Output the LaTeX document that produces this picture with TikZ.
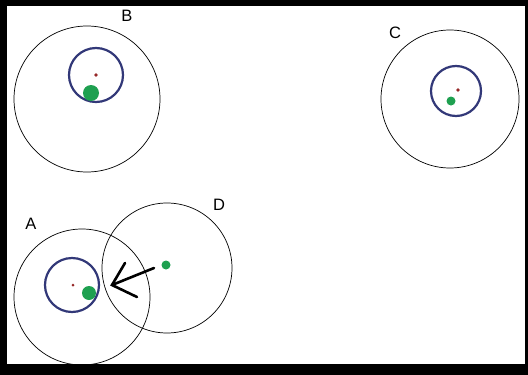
\documentclass[tikz,border=0pt]{standalone}
\usepackage{fontspec}
\setmainfont{Liberation Sans}
\begin{document}
\begin{tikzpicture}[x=1pt,y=-1pt,
  outer/.style={draw=black,line width=0.7pt},
  inner/.style={draw=ringblue,line width=2.2pt},
  reddot/.style={fill=dotred,draw=none},
  greendot/.style={fill=dotgreen,draw=none},
  lbl/.style={font=\fontsize{16.5}{16.5}\selectfont,inner sep=0pt}]
\definecolor{ringblue}{RGB}{50,56,120}
\definecolor{dotred}{RGB}{150,40,40}
\definecolor{dotgreen}{RGB}{30,160,80}
\useasboundingbox (0,0) rectangle (528,375);
\fill[black] (0,0) rectangle (528,375);
\fill[white] (7,6) rectangle (525,364);
% B
\draw[outer] (87,99) circle (73);
\draw[inner] (96,75) circle (27);
\fill[reddot] (96,75) circle (1.8);
\fill[greendot] (91,93) circle (8);
\node[lbl] (B) at (127,16) {B};
% C
\draw[outer] (450,99) circle (69);
\draw[inner] (456,91) circle (25);
\fill[reddot] (458,90) circle (1.8);
\fill[greendot] (451,101) circle (4.5);
\node[lbl] (C) at (395,33) {C};
% A
\draw[outer] (82,297) circle (68);
\draw[inner] (72,285) circle (27);
\fill[reddot] (73,285) circle (1.5);
\fill[greendot] (89,293) circle (7);
\node[lbl] (A) at (31,224) {A};
% D
\draw[outer] (167,268) circle (65);
\fill[greendot] (166,265) circle (4.5);
\node[lbl] (D) at (219,205) {D};
% arrow
\coordinate (s) at (154,268);
\coordinate (t) at (112,285);
\draw[line width=2.6pt,line cap=round] (s) -- (t);
\draw[line width=2.6pt,line cap=round,line join=miter] (125,263) -- (t) -- (137,297);
\end{tikzpicture}
\end{document}
